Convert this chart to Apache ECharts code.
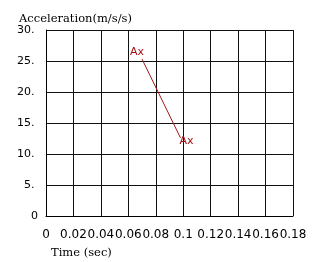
<!DOCTYPE html>
<html><head><meta charset="utf-8">
<script src="https://cdn.jsdelivr.net/npm/echarts@6/dist/echarts.min.js"></script>
<style>html,body{margin:0;padding:0;background:#fff}#c{width:315px;height:262px}</style>
</head><body><div id="c"></div>
<script>
const timeValues = [0.07, 0.098];
const accelValues = [25.3, 12.6];
const pointLabels = ['Ax', 'Ax'];
const xTicks = [0, 0.02, 0.04, 0.06, 0.08, 0.1, 0.12, 0.14, 0.16, 0.18];
const yTicks = [0, 5, 10, 15, 20, 25, 30];
const labelOffsets = [[-5, -7], [6, 3]];

const chart = echarts.init(document.getElementById('c'));
chart.setOption({
  animation: false,
  grid: {left: 46, top: 30, right: 22, bottom: 46},
  title: [
    {text: 'Acceleration(m/s/s)', left: 14, top: 8, textStyle: {fontFamily: 'DejaVu Serif', fontSize: 11.5, fontWeight: 'normal', color: '#000'}},
    {text: 'Time (sec)', left: 46, top: 242, textStyle: {fontFamily: 'DejaVu Serif', fontSize: 11.5, fontWeight: 'normal', color: '#000'}}
  ],
  xAxis: {
    type: 'value', min: xTicks[0], max: xTicks[xTicks.length-1], interval: 0.02,
    axisLine: {show: true, lineStyle: {color: '#000', width: 1}},
    axisTick: {show: false},
    splitLine: {show: true, lineStyle: {color: '#111', width: 1}},
    axisLabel: {margin: 13, fontFamily: 'DejaVu Sans', fontSize: 12, color: '#000',
      formatter: v => String(parseFloat(v.toFixed(2))), showMinLabel: true, showMaxLabel: true, hideOverlap: false}
  },
  yAxis: {
    type: 'value', min: yTicks[0], max: yTicks[yTicks.length-1], interval: 5,
    axisLine: {show: true, lineStyle: {color: '#000', width: 1}},
    axisTick: {show: false},
    splitLine: {show: true, lineStyle: {color: '#111', width: 1}},
    axisLabel: {margin: 8, fontFamily: 'DejaVu Sans', fontSize: 11, color: '#000',
      formatter: v => v === 0 ? '0' : v + '. '}
  },
  series: [{
    type: 'line',
    data: timeValues.map((t, i) => ({
      value: [t, accelValues[i]],
      label: {show: true, formatter: pointLabels[i], position: 'inside', offset: labelOffsets[i]}
    })),
    showSymbol: true, symbol: 'circle', symbolSize: 1,
    itemStyle: {color: 'rgba(0,0,0,0)'},
    lineStyle: {color: '#a01818', width: 1},
    label: {color: '#a01010', fontFamily: 'DejaVu Sans', fontSize: 11},
    emphasis: {disabled: true}
  }]
});
</script></body></html>
